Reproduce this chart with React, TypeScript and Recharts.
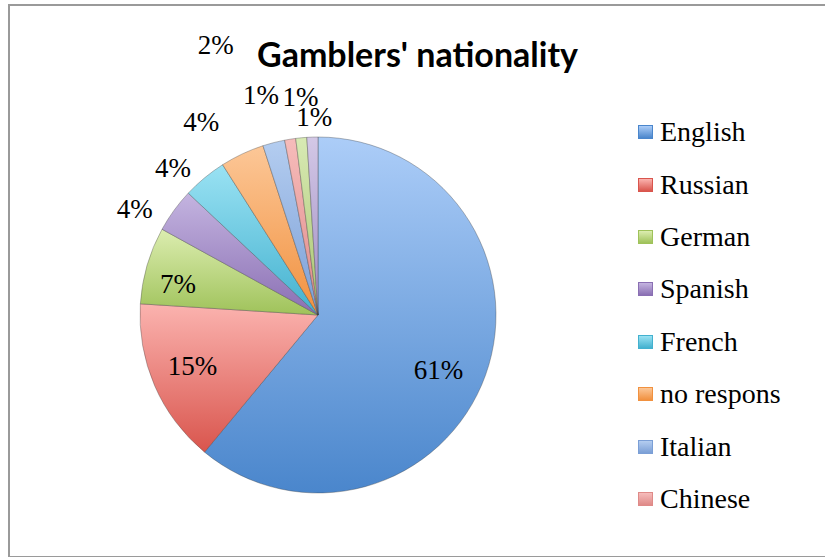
import { PieChart, Pie, Cell, Legend } from "recharts";

// categories shown in the reference (last two are cut off from the legend)
const nationalities = [
  "English",
  "Russian",
  "German",
  "Spanish",
  "French",
  "no respons",
  "Italian",
  "Chinese",
  "Japanese",
  "other",
];

// share of gamblers, in percent
const shares = [61, 15, 7, 4, 4, 4, 2, 1, 1, 1];

const legendCount = 8;

const data = nationalities.map((name, i) => ({ name, value: shares[i] }));

// [top, bottom] gradient stops for each slice
const colors = [
  ["#accdf8", "#4a86cc"],
  ["#fbb3af", "#d9554d"],
  ["#dcedb0", "#9fc25a"],
  ["#c4b4e0", "#8a6fb3"],
  ["#9ae2f3", "#43b1cf"],
  ["#fcc797", "#f1913f"],
  ["#b4cdf0", "#7b9fd6"],
  ["#f6bcbb", "#df8a88"],
  ["#d8eab4", "#a9c470"],
  ["#d3c8e6", "#9f8cc2"],
];

// nudges for the data labels, to follow the original placement
const labelNudge: Record<string, [number, number]> = {
  English: [0, 12],
  Russian: [-8, 0],
  German: [-17, 5],
  Spanish: [-7, 22],
  French: [-6, 21],
  "no respons": [-24, 4],
  Italian: [-48, -59],
  Chinese: [-23, -5],
  Japanese: [3, -1],
  other: [3, 20],
};

const serif = "Liberation Serif, Times New Roman, serif";
const RAD = Math.PI / 180;

function renderLabel(props: any) {
  const { cx, cy, midAngle, outerRadius, percent, name } = props;
  const r = percent >= 0.05 ? outerRadius * 0.72 : outerRadius + 40;
  const [dx, dy] = labelNudge[name] || [0, 0];
  const x = cx + r * Math.cos(-midAngle * RAD) + dx;
  const y = cy + r * Math.sin(-midAngle * RAD) + dy;
  return (
    <text
      key={name}
      x={x}
      y={y}
      fill="#000"
      textAnchor="middle"
      dominantBaseline="central"
      fontFamily={serif}
      fontSize={27}
      style={{ fontFamily: serif, fontSize: 27 }}
    >
      {Math.round(percent * 100)}%
    </text>
  );
}

function LegendList() {
  return (
    <div style={{ fontFamily: serif, fontSize: 28, color: "#000" }}>
      {nationalities.slice(0, legendCount).map((name, i) => (
        <div
          key={name}
          style={{ height: 52.4, display: "flex", alignItems: "center" }}
        >
          <span
            style={{
              width: 15,
              height: 14,
              marginRight: 7,
              background: `linear-gradient(${colors[i][0]}, ${colors[i][1]})`,
              border: `1px solid ${colors[i][1]}`,
              boxSizing: "border-box",
            }}
          />
          <span>{name}</span>
        </div>
      ))}
    </div>
  );
}

export default function App() {
  return (
    <div
      style={{
        position: "absolute",
        left: 0,
        top: 0,
        width: 825,
        height: 557,
        background: "#fff",
        overflow: "hidden",
      }}
    >
      <div
        style={{
          position: "absolute",
          left: 8,
          top: 4,
          width: 840,
          height: 550,
          border: "2px solid #9a9a9a",
        }}
      />
      <div
        style={{
          position: "absolute",
          left: 0,
          top: 34,
          width: 835,
          textAlign: "center",
          fontFamily: "Lato, 'DejaVu Sans', sans-serif",
          fontWeight: 700,
          fontSize: 34,
          lineHeight: "40px",
          color: "#000",
        }}
      >
        Gamblers' nationality
      </div>
      <div style={{ position: "absolute", left: 0, top: 0 }}>
        <PieChart
          width={825}
          height={557}
          margin={{ top: 0, right: 0, bottom: 0, left: 0 }}
        >
          <defs>
            {colors.map((c, i) => (
              <linearGradient key={i} id={`g${i}`} x1="0" y1="0" x2="0" y2="1">
                <stop offset="0%" stopColor={c[0]} />
                <stop offset="100%" stopColor={c[1]} />
              </linearGradient>
            ))}
          </defs>
          <Pie
            data={data}
            dataKey="value"
            nameKey="name"
            cx={318}
            cy={315}
            outerRadius={178}
            startAngle={90}
            endAngle={-270}
            label={renderLabel}
            labelLine={false}
            isAnimationActive={false}
            stroke="rgba(60,60,60,0.35)"
            strokeWidth={1}
          >
            {data.map((d, i) => (
              <Cell key={d.name} fill={`url(#g${i})`} />
            ))}
          </Pie>
          <Legend
            layout="vertical"
            align="right"
            verticalAlign="top"
            content={() => <LegendList />}
            wrapperStyle={{ left: 638, top: 106, width: 185 }}
          />
        </PieChart>
      </div>
    </div>
  );
}
